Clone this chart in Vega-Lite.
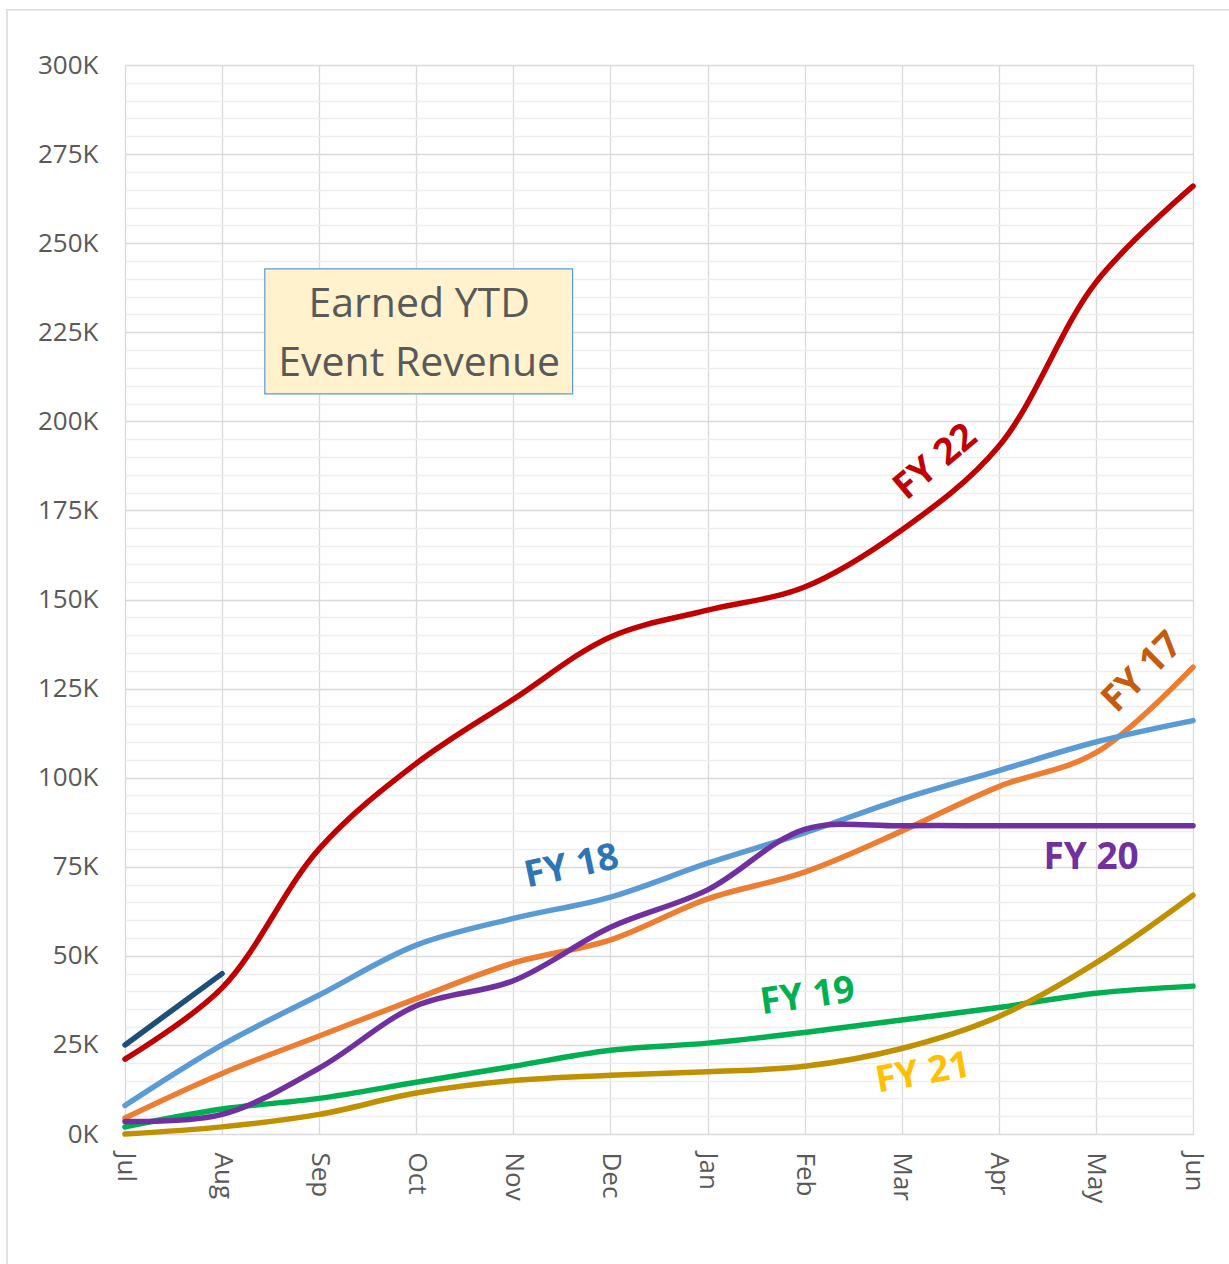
{
  "$schema": "https://vega.github.io/schema/vega-lite/v6.json",
  "width": 1068,
  "height": 1069,
  "autosize": {"type": "none"},
  "padding": {"left": 125, "top": 65, "right": 36, "bottom": 130},
  "background": "white",
  "config": {"view": {"stroke": null}, "font": "Open Sans"},
  "datasets": {
    "lines": [
      {"fy": "FY 17", "m": 0, "v": 4.5}, {"fy": "FY 17", "m": 1, "v": 17}, {"fy": "FY 17", "m": 2, "v": 27.5}, {"fy": "FY 17", "m": 3, "v": 38}, {"fy": "FY 17", "m": 4, "v": 48}, {"fy": "FY 17", "m": 5, "v": 54.5}, {"fy": "FY 17", "m": 6, "v": 66}, {"fy": "FY 17", "m": 7, "v": 73.5}, {"fy": "FY 17", "m": 8, "v": 85}, {"fy": "FY 17", "m": 9, "v": 97.5}, {"fy": "FY 17", "m": 10, "v": 107}, {"fy": "FY 17", "m": 11, "v": 131},
      {"fy": "FY 18", "m": 0, "v": 8}, {"fy": "FY 18", "m": 1, "v": 25}, {"fy": "FY 18", "m": 2, "v": 39}, {"fy": "FY 18", "m": 3, "v": 53}, {"fy": "FY 18", "m": 4, "v": 60.5}, {"fy": "FY 18", "m": 5, "v": 66.5}, {"fy": "FY 18", "m": 6, "v": 76}, {"fy": "FY 18", "m": 7, "v": 84.5}, {"fy": "FY 18", "m": 8, "v": 94}, {"fy": "FY 18", "m": 9, "v": 102}, {"fy": "FY 18", "m": 10, "v": 110}, {"fy": "FY 18", "m": 11, "v": 116},
      {"fy": "FY 19", "m": 0, "v": 2}, {"fy": "FY 19", "m": 1, "v": 7}, {"fy": "FY 19", "m": 2, "v": 10}, {"fy": "FY 19", "m": 3, "v": 14.5}, {"fy": "FY 19", "m": 4, "v": 19}, {"fy": "FY 19", "m": 5, "v": 23.5}, {"fy": "FY 19", "m": 6, "v": 25.5}, {"fy": "FY 19", "m": 7, "v": 28.5}, {"fy": "FY 19", "m": 8, "v": 32}, {"fy": "FY 19", "m": 9, "v": 35.5}, {"fy": "FY 19", "m": 10, "v": 39.5}, {"fy": "FY 19", "m": 11, "v": 41.5},
      {"fy": "FY 21", "m": 0, "v": 0}, {"fy": "FY 21", "m": 1, "v": 2}, {"fy": "FY 21", "m": 2, "v": 5.5}, {"fy": "FY 21", "m": 3, "v": 11.5}, {"fy": "FY 21", "m": 4, "v": 15}, {"fy": "FY 21", "m": 5, "v": 16.5}, {"fy": "FY 21", "m": 6, "v": 17.5}, {"fy": "FY 21", "m": 7, "v": 19}, {"fy": "FY 21", "m": 8, "v": 24}, {"fy": "FY 21", "m": 9, "v": 33}, {"fy": "FY 21", "m": 10, "v": 48}, {"fy": "FY 21", "m": 11, "v": 67},
      {"fy": "FY 20", "m": 0, "v": 3.5}, {"fy": "FY 20", "m": 1, "v": 5.5}, {"fy": "FY 20", "m": 2, "v": 18.5}, {"fy": "FY 20", "m": 3, "v": 36}, {"fy": "FY 20", "m": 4, "v": 43}, {"fy": "FY 20", "m": 5, "v": 58}, {"fy": "FY 20", "m": 6, "v": 68.5}, {"fy": "FY 20", "m": 7, "v": 85.5}, {"fy": "FY 20", "m": 8, "v": 86.5}, {"fy": "FY 20", "m": 9, "v": 86.5}, {"fy": "FY 20", "m": 10, "v": 86.5}, {"fy": "FY 20", "m": 11, "v": 86.5},
      {"fy": "FY 22", "m": 0, "v": 21}, {"fy": "FY 22", "m": 1, "v": 41}, {"fy": "FY 22", "m": 2, "v": 80}, {"fy": "FY 22", "m": 3, "v": 104}, {"fy": "FY 22", "m": 4, "v": 122}, {"fy": "FY 22", "m": 5, "v": 139.5}, {"fy": "FY 22", "m": 6, "v": 147}, {"fy": "FY 22", "m": 7, "v": 153.5}, {"fy": "FY 22", "m": 8, "v": 169.5}, {"fy": "FY 22", "m": 9, "v": 193}, {"fy": "FY 22", "m": 10, "v": 239}, {"fy": "FY 22", "m": 11, "v": 266},
      {"fy": "FY 23", "m": 0, "v": 25}, {"fy": "FY 23", "m": 1, "v": 45}
    ],
    "labels": [
      {"t": "FY 22", "m": 8.35, "v": 188.5, "a": -40, "c": "#C00000"},
      {"t": "FY 17", "m": 10.48, "v": 129.5, "a": -45, "c": "#C55A11"},
      {"t": "FY 18", "m": 4.6, "v": 75, "a": -12, "c": "#2E75B6"},
      {"t": "FY 20", "m": 9.95, "v": 77.5, "a": 0, "c": "#7030A0"},
      {"t": "FY 19", "m": 7.03, "v": 38.5, "a": -8, "c": "#00B050"},
      {"t": "FY 21", "m": 8.22, "v": 17, "a": -10, "c": "#FFC000"}
    ],
    "frame": [{"m": -1.215, "m2": 11.5, "v": 315.5, "v2": -38}],
    "box": [{"m": 1.44, "m2": 4.61, "v": 207.7, "v2": 242.8}],
    "boxtext": [{"t": "Earned YTD", "m": 3.03, "v": 232.6}, {"t": "Event Revenue", "m": 3.03, "v": 216.2}]
  },
  "encoding": {
    "x": {"field": "m", "type": "quantitative", "scale": {"domain": [0, 11], "nice": false, "zero": false},
      "axis": {"values": [0,1,2,3,4,5,6,7,8,9,10,11], "title": null, "grid": true, "gridColor": "#D9D9D9", "gridWidth": 1.3, "domain": false, "ticks": false,
        "labelExpr": "['Jul','Aug','Sep','Oct','Nov','Dec','Jan','Feb','Mar','Apr','May','Jun'][datum.value]",
        "labelAngle": 90, "labelAlign": "left", "labelBaseline": "middle", "labelFontSize": 26, "labelColor": "#595959", "labelPadding": 18, "labelFont": "Open Sans", "labelOverlap": false}},
    "y": {"field": "v", "type": "quantitative", "scale": {"domain": [0, 300], "nice": false},
      "axis": {"values": [0,5,10,15,20,25,30,35,40,45,50,55,60,65,70,75,80,85,90,95,100,105,110,115,120,125,130,135,140,145,150,155,160,165,170,175,180,185,190,195,200,205,210,215,220,225,230,235,240,245,250,255,260,265,270,275,280,285,290,295,300],
        "title": null, "domain": false, "ticks": false, "grid": true,
        "gridColor": {"condition": {"test": "datum.value % 25 === 0", "value": "#D9D9D9"}, "value": "#EEEEEE"},
        "gridWidth": 1.3, "labelOverlap": false,
        "labelExpr": "datum.value % 25 === 0 ? datum.value + 'K' : ''",
        "labelFontSize": 26, "labelColor": "#595959", "labelPadding": 27, "labelFont": "Open Sans"}}
  },
  "layer": [
    {
      "data": {"name": "frame"},
      "mark": {"type": "rect", "fill": null, "stroke": "#D9D9D9", "strokeWidth": 1.5, "clip": false},
      "encoding": {
        "x2": {"field": "m2"},
        "y2": {"field": "v2"}
      }
    },
    {
      "data": {"name": "box"},
      "mark": {"type": "rect", "fill": "#FFF2CC", "stroke": "#5B9BD5", "strokeWidth": 1.2},
      "encoding": {
        "x2": {"field": "m2"},
        "y2": {"field": "v2"}
      }
    },
    {
      "data": {"name": "boxtext"},
      "mark": {"type": "text", "fontSize": 41, "color": "#595959", "font": "Open Sans", "align": "center", "baseline": "middle"},
      "encoding": {
        "text": {"field": "t"}
      }
    },
    {
      "data": {"name": "lines"},
      "mark": {"type": "line", "strokeWidth": 5.5, "interpolate": "catmull-rom", "strokeCap": "round"},
      "encoding": {
        "detail": {"field": "fy"},
        "color": {"field": "fy", "type": "nominal", "legend": null,
          "scale": {"domain": ["FY 17", "FY 18", "FY 19", "FY 20", "FY 21", "FY 22", "FY 23"],
                    "range": ["#ED7D31", "#5B9BD5", "#00B050", "#7030A0", "#BF9000", "#C00000", "#1F4E79"]}}
      }
    },
    {
      "data": {"name": "labels"},
      "mark": {"type": "text", "fontSize": 37, "fontWeight": "bold", "font": "Open Sans", "align": "center", "baseline": "middle"},
      "encoding": {
        "text": {"field": "t"},
        "angle": {"field": "a", "type": "quantitative", "scale": null},
        "color": {"field": "c", "type": "nominal", "scale": null}
      }
    }
  ]
}
